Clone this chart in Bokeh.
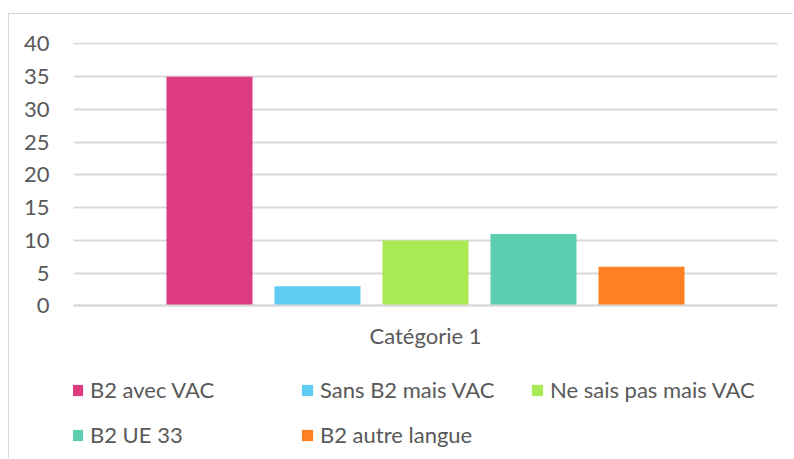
from bokeh.plotting import figure
from bokeh.models import ColumnDataSource, FactorRange, Range1d, Legend, LegendItem
from bokeh.transform import dodge
from bokeh.embed import file_html
from bokeh.resources import INLINE

categories = ["Catégorie 1"]
series = ["B2 avec VAC", "Sans B2 mais VAC", "Ne sais pas mais VAC", "B2 UE 33", "B2 autre langue"]
values = [35, 3, 10, 11, 6]
colors = ["#DC3A81", "#5ECCF3", "#A8EA53", "#5DCFB1", "#FF8021"]
y_ticks = [0, 5, 10, 15, 20, 25, 30, 35, 40]

FONT = "Lato"
TXT = "#595959"
GRID = "#d9d9d9"

# frame extends below the zero line so the legend (drawn in the frame) is not clipped
p = figure(x_range=FactorRange(factors=categories), y_range=Range1d(-23.43, 40.21),
           width=785, height=445, output_backend="svg", toolbar_location=None,
           min_border_left=64, min_border_right=17, min_border_top=28, min_border_bottom=0,
           margin=(13, 0, 0, 8))
p.styles = {"border-top": "1px solid #d9d9d9", "border-left": "1px solid #d9d9d9"}
p.outline_line_color = None
p.background_fill_color = "white"
p.border_fill_color = "white"

step = 108 / 704
bar_w = 86 / 704
items = []
for i, (name, val, col) in enumerate(zip(series, values, colors)):
    src = ColumnDataSource(dict(cat=categories, val=[val]))
    r = p.vbar(x=dodge("cat", (i - 2) * step, range=p.x_range), top="val", bottom=0,
               width=bar_w, source=src, fill_color=col, line_color=None)
    items.append(LegendItem(label=name, renderers=[r]))

p.xgrid.grid_line_color = None
p.ygrid.grid_line_color = GRID
p.ygrid.grid_line_width = 2
p.yaxis.ticker = y_ticks
p.yaxis.axis_line_color = None
p.yaxis.major_tick_line_color = None
p.yaxis.minor_tick_line_color = None
p.yaxis.major_label_standoff = 18
p.yaxis.major_label_text_font = FONT
p.yaxis.major_label_text_font_size = "22px"
p.yaxis.major_label_text_color = TXT

p.xaxis.fixed_location = 0
p.xaxis.axis_line_color = GRID
p.xaxis.axis_line_width = 2
p.xaxis.major_tick_line_color = None
p.xaxis.major_label_standoff = 10
p.xaxis.major_label_text_font = FONT
p.xaxis.major_label_text_font_size = "22px"
p.xaxis.major_label_text_color = TXT

legend = Legend(items=items, orientation="horizontal", ncols=3, location=(-3, 11),
                glyph_width=14, glyph_height=14, label_standoff=6, label_width=192,
                label_height=20, spacing=18, padding=0, margin=0,
                border_line_color=None, background_fill_alpha=0,
                label_text_font=FONT, label_text_font_size="22px", label_text_color=TXT)
p.add_layout(legend, "center")

open("out.html", "w").write(file_html(p, INLINE))
